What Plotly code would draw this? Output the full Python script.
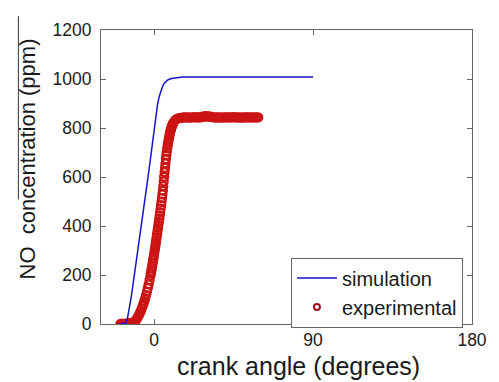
import numpy as np
import plotly.graph_objects as go

# ---- data ----
sim_angle = [-20, -17, -16, -15, -14, -13, -12, -11, -10, -9, -8, -7, -6, -5, -4, -3, -2, -1,
             0, 1, 2, 3, 4, 5, 6, 7, 8, 10, 12, 14, 16, 20, 90]
sim_no = [0, 0, 3, 25, 60, 105, 155, 205, 255, 300, 350, 400, 455, 510, 565, 620, 675, 735,
          790, 850, 895, 930, 955, 972, 984, 992, 997, 1002, 1005, 1007, 1008, 1008, 1008]

exp_angle_a = list(np.arange(-19, -2.4, 0.5))
exp_no_a = [0, 0, 0, 0, 0, 0, 0, 1, 1, 1, 2, 2, 3, 4, 5, 7, 9, 13, 18, 24, 30, 37, 45, 53,
            62, 72, 82, 93, 105, 118, 132, 147, 162, 180]
exp_angle_b = list(np.arange(-2, 11.01, 0.25))
exp_no_b = [198, 208, 218, 228, 238, 249, 260, 271, 282, 294, 306, 318, 330, 342, 355, 367,
            380, 392, 405, 417, 430, 443, 457, 471, 485, 499, 514, 529, 545, 563, 582, 601,
            620, 638, 656, 673, 690, 704, 717, 729, 740, 750, 760, 769, 778, 786, 793, 799,
            805, 810, 814, 818, 822]
exp_angle_c = list(np.arange(12, 59.5, 1))
exp_no_c = [832, 837, 840, 841, 842, 843, 843, 843, 842, 843, 843, 844, 843, 843, 843, 845,
            847, 848, 848, 847, 846, 844, 843, 843, 843, 843, 842, 843, 843, 843, 843, 843,
            843, 844, 843, 843, 843, 842, 843, 843, 843, 843, 843, 843, 843, 843, 843, 843]

exp_angle = exp_angle_a + exp_angle_b + exp_angle_c
exp_no = exp_no_a + exp_no_b + exp_no_c

x_ticks = [0, 90, 180]
y_ticks = [0, 200, 400, 600, 800, 1000, 1200]

FONT = "Liberation Sans, Arial, sans-serif"
TXT = "#1a1a1a"

fig = go.Figure()
fig.add_trace(go.Scatter(x=exp_angle, y=exp_no, mode="markers", showlegend=False,
                         marker=dict(symbol="circle-open", size=8, color="#cc1414",
                                     line=dict(width=2.3, color="#cc1414"))))
fig.add_trace(go.Scatter(x=sim_angle, y=sim_no, mode="lines", name="simulation",
                         line=dict(color="#1414c8", width=1.5)))
fig.add_trace(go.Scatter(x=[None], y=[None], mode="markers", name="experimental",
                         marker=dict(symbol="circle-open", size=6, color="#a01018",
                                     line=dict(width=2, color="#a01018"))))

axis_common = dict(showgrid=False, zeroline=False, showline=True, linecolor="#666",
                   linewidth=1, mirror="ticks", ticks="inside", ticklen=5,
                   tickcolor="#666", tickfont=dict(family=FONT, size=17.5, color=TXT))
fig.update_xaxes(range=[-30, 180], tickvals=x_ticks, **axis_common)
fig.update_yaxes(range=[0, 1200], tickvals=y_ticks, ticklabelstandoff=5, **axis_common)

fig.add_annotation(text="crank angle (degrees)", xref="paper", yref="paper",
                   x=0.531, y=-0.143, xanchor="center", yanchor="middle", showarrow=False,
                   font=dict(family=FONT, size=25, color=TXT))
fig.add_annotation(text="NO  concentration (ppm)", xref="paper", yref="paper",
                   x=-0.197, y=0.563, xanchor="center", yanchor="middle", showarrow=False,
                   textangle=-90, font=dict(family=FONT, size=22, color=TXT))

fig.add_shape(type="line", xref="paper", yref="paper", x0=-0.2227, x1=-0.2227,
              y0=0.423, y1=1.0467, line=dict(color="#333", width=1))

fig.update_layout(
    width=491, height=374,
    margin=dict(l=93, r=23, t=16, b=58),
    paper_bgcolor="white", plot_bgcolor="white",
    legend=dict(x=0.512, y=0.226, xanchor="left", yanchor="top",
                bgcolor="white", bordercolor="#666", borderwidth=1,
                font=dict(family=FONT, size=20, color=TXT),
                tracegroupgap=0, itemwidth=40),
)

fig.write_html("out.html")
